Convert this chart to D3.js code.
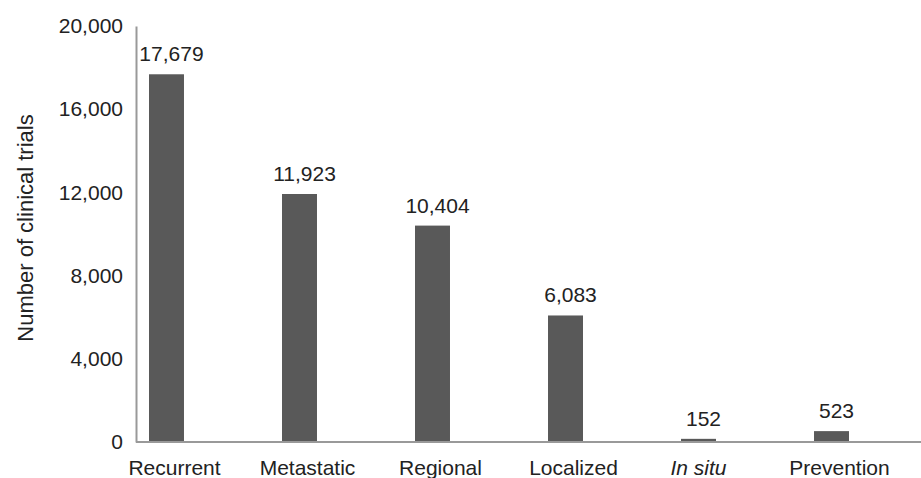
<!DOCTYPE html>
<html>
<head>
<meta charset="utf-8">
<script src="https://cdn.jsdelivr.net/npm/d3@7"></script>
<style>
  body { margin: 0; background: #fff; }
  text { font-family: "Liberation Sans", Arial, sans-serif; fill: #222; }
</style>
</head>
<body>
<div id="chart"></div>
<script>
const WIDTH = 921;
const HEIGHT = 478;

// data
var CATEGORIES = ["Recurrent", "Metastatic", "Regional", "Localized", "In situ", "Prevention"];
var VALUES = [17679, 11923, 10404, 6083, 152, 523];
var Y_TICKS = [0, 4000, 8000, 12000, 16000, 20000];
var Y_TITLE = "Number of clinical trials";

var svg = d3
  .select("#chart")
  .append("svg")
  .attr("width", WIDTH)
  .attr("height", HEIGHT);

//Scales
var xScale = d3
  .scaleBand()
  .domain(CATEGORIES)
  .range([149, 849])
  .paddingInner(0.737)
  .paddingOuter(0);

var yScale = d3
  .scaleLinear()
  .domain([0, 20000])
  .range([442, 26]);

var fmt = d3.format(",");

//Bars
svg
  .append("g")
  .selectAll("rect")
  .data(VALUES)
  .enter()
  .append("rect")
  .attr("x", (d, i) => xScale(CATEGORIES[i]))
  .attr("y", (d) => yScale(d))
  .attr("width", xScale.bandwidth())
  .attr("height", (d) => yScale(0) - yScale(d))
  .attr("fill", "#595959");

//Value labels
svg
  .append("g")
  .selectAll("text")
  .data(VALUES)
  .enter()
  .append("text")
  .attr("x", (d, i) => xScale(CATEGORIES[i]) + xScale.bandwidth() / 2 + 5)
  .attr("y", (d) => yScale(d) - 13)
  .attr("text-anchor", "middle")
  .attr("font-size", 21)
  .text((d) => fmt(d));

//Y axis
var yAxis = d3.axisLeft(yScale).tickValues(Y_TICKS).tickSize(0).tickPadding(13).tickFormat(fmt);
var gy = svg
  .append("g")
  .attr("transform", "translate(136,0)")
  .call(yAxis);
gy.select(".domain").attr("stroke", "#999").attr("stroke-width", 2);
gy.selectAll("text")
  .attr("font-size", 21)
  .attr("font-family", "Liberation Sans, Arial, sans-serif")
  .attr("fill", "#222");

//X axis line
svg
  .append("line")
  .attr("x1", 136)
  .attr("x2", WIDTH)
  .attr("y1", yScale(0))
  .attr("y2", yScale(0))
  .attr("stroke", "#999")
  .attr("stroke-width", 2);

//Category labels
svg
  .append("g")
  .selectAll("text")
  .data(CATEGORIES)
  .enter()
  .append("text")
  .attr("x", (d) => xScale(d) + xScale.bandwidth() / 2 + (d === "In situ" ? 0 : 8))
  .attr("y", 475)
  .attr("text-anchor", "middle")
  .attr("font-size", 21)
  .attr("font-style", (d) => (d === "In situ" ? "italic" : "normal"))
  .text((d) => d);

//Y title
svg
  .append("text")
  .attr("transform", "translate(33,228) rotate(-90)")
  .attr("text-anchor", "middle")
  .attr("font-size", 22)
  .text(Y_TITLE);
</script>
</body>
</html>
